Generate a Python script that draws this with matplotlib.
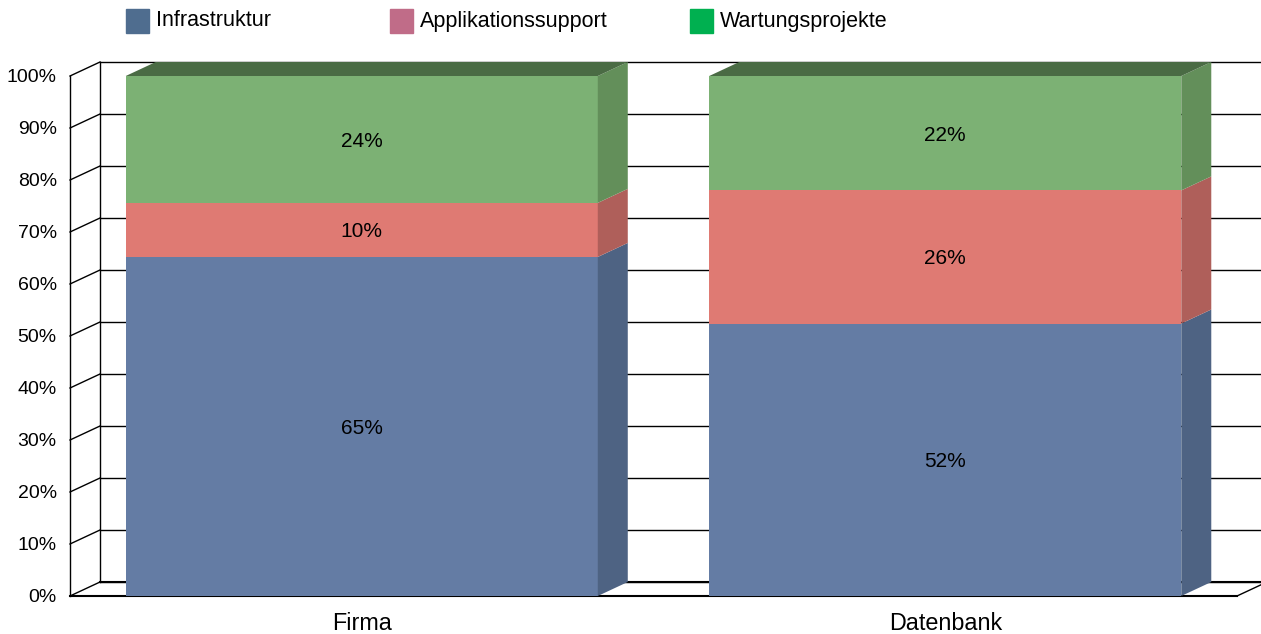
import matplotlib
matplotlib.use("Agg")
import matplotlib.pyplot as plt
from matplotlib.patches import Rectangle

plt.rcParams['font.family'] = ['Liberation Sans', 'DejaVu Sans']

# data
categories = ["Firma", "Datenbank"]
series_names = ["Infrastruktur", "Applikationssupport", "Wartungsprojekte"]
infrastruktur = [65.2, 52.4]
applikationssupport = [10.4, 25.6]
wartungsprojekte = [24.4, 22.0]
yticks = [0, 10, 20, 30, 40, 50, 60, 70, 80, 90, 100]
ytick_labels = [f"{t}%" for t in yticks]

# styles
front_colors = ["#647ca4", "#df7a73", "#7cb174"]
side_colors = ["#4e6383", "#af5f5a", "#638f5a"]
top_color = "#4a6b44"
legend_colors = ["#4f6d8f", "#c06c88", "#00b050"]

W, H = 1261, 634
fig = plt.figure(figsize=(W / 100, H / 100), dpi=100)
ax = fig.add_axes([70 / W, 38 / H, 1167 / W, 520 / H])
ax.set_xlim(-0.5, 1.5)
ax.set_ylim(0, 100)
for s in ax.spines.values():
    s.set_visible(False)

# 3d depth in data units (30px right, 14px up)
DX = 30 / 583.5
DY = 14 / 5.2
bw = 0.809
x = list(range(len(categories)))

# back wall grid + left wall
for t in yticks:
    ax.plot([-0.5 + DX, 1.5 + DX], [t + DY, t + DY], color="black", lw=1.0,
            clip_on=False, zorder=1)
    ax.plot([-0.5, -0.5 + DX], [t, t + DY], color="black", lw=1.0,
            clip_on=False, zorder=1)
ax.plot([-0.5 + DX, -0.5 + DX], [DY, 100 + DY], color="black", lw=1.0, clip_on=False, zorder=1)
ax.plot([-0.5, -0.5], [0, 100], color="black", lw=1.0, clip_on=False, zorder=1)
# floor
ax.plot([-0.5, 1.5], [0, 0], color="black", lw=1.5, clip_on=False, zorder=1)
ax.plot([-0.5 + DX, 1.5 + DX], [DY, DY], color="black", lw=1.5, clip_on=False, zorder=1)
ax.plot([1.5, 1.5 + DX], [0, DY], color="black", lw=1.0, clip_on=False, zorder=1)

stack = [infrastruktur, applikationssupport, wartungsprojekte]
bottom = [0.0] * len(categories)
for vals, fc, sc in zip(stack, front_colors, side_colors):
    ax.bar(x, vals, bottom=bottom, width=bw, color=fc, zorder=3)
    for xi, b, v in zip(x, bottom, vals):
        x1 = xi + bw / 2
        ax.fill([x1, x1 + DX, x1 + DX, x1], [b, b + DY, b + v + DY, b + v],
                color=sc, lw=0, clip_on=False, zorder=3)
        ax.annotate(f"{round(v)}%", (xi, b + v / 2), xytext=(0, -2),
                    textcoords="offset pixels", ha="center", va="center",
                    fontsize=15, zorder=4)
    bottom = [b + v for b, v in zip(bottom, vals)]

for xi, top in zip(x, bottom):
    x0, x1 = xi - bw / 2, xi + bw / 2
    ax.fill([x0, x1, x1 + DX, x0 + DX], [top, top, top + DY, top + DY],
            color=top_color, lw=0, clip_on=False, zorder=3)

ax.set_xticks(x)
ax.set_xticklabels(categories, fontsize=16.8)
ax.set_yticks(yticks)
ax.set_yticklabels(ytick_labels, fontsize=14)
ax.tick_params(axis="x", length=0, pad=11.5)
ax.tick_params(axis="y", length=0, pad=9.5)

# legend
legend_x = [126, 390, 690]
for lx, name, c in zip(legend_x, series_names, legend_colors):
    fig.patches.append(Rectangle((lx / W, 1 - 33 / H), 23 / W, 24 / H,
                                 transform=fig.transFigure, color=c))
    fig.text((lx + 30) / W, 1 - 21 / H, name, fontsize=15.5, va="center", ha="left")

fig.savefig("out.png", dpi=100)
